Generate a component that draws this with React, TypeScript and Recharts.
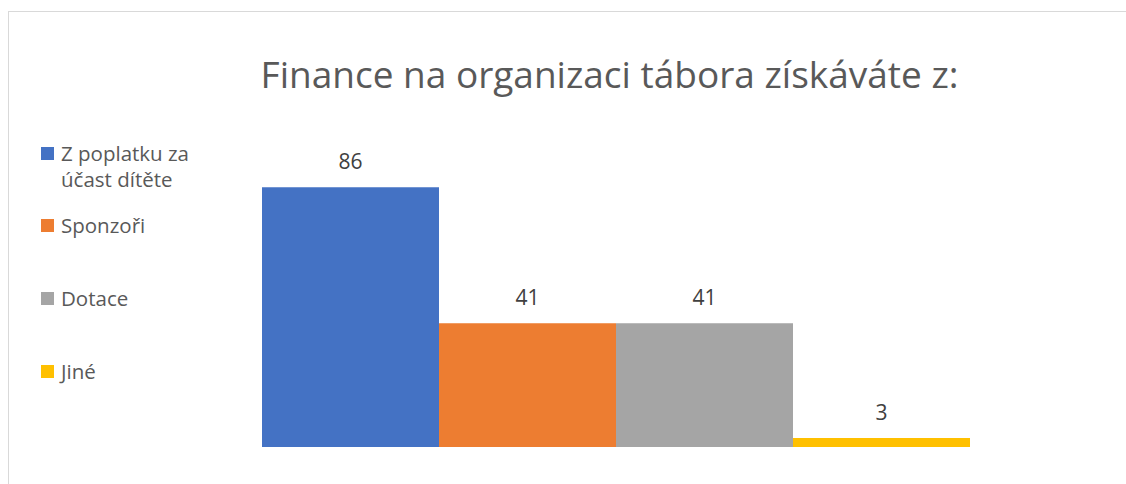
import React from 'react';
import { BarChart, Bar, XAxis, YAxis, LabelList } from 'recharts';

const title = 'Finance na organizaci tábora získáváte z:';
const seriesNames = ['Z poplatku za účast dítěte', 'Sponzoři', 'Dotace', 'Jiné'];
const legendLines = [['Z poplatku za', 'účast dítěte'], ['Sponzoři'], ['Dotace'], ['Jiné']];
const seriesValues = [86, 41, 41, 3];
const seriesColors = ['#4472C4', '#ED7D31', '#A5A5A5', '#FFC000'];
const categoryLabel = 'Finance';
const yDomain = [0, 100];

const data = [
  seriesValues.reduce(
    (acc: any, v, i) => {
      acc['s' + i] = v;
      return acc;
    },
    { name: categoryLabel }
  ),
];

const FONT = '"Open Sans", "Noto Sans", sans-serif';
const legendBaselines = [161, 233, 306, 379];

export default function App() {
  return (
    <div
      style={{
        position: 'fixed',
        left: 0,
        top: 0,
        width: 1126,
        height: 484,
        overflow: 'hidden',
        background: '#ffffff',
      }}
    >
      <div
        style={{
          position: 'absolute',
          left: 8,
          top: 11,
          width: 1300,
          height: 700,
          border: '1px solid #d9d9d9',
          boxSizing: 'border-box',
        }}
      />
      <div style={{ position: 'absolute', left: 0, top: 0 }}>
        <BarChart
          width={1126}
          height={484}
          data={data}
          margin={{ top: 145, right: 156, bottom: 37, left: 262 }}
          barCategoryGap={0}
          barGap={0}
        >
          <XAxis dataKey="name" hide />
          <YAxis hide domain={yDomain} />
          {seriesNames.map((n, i) => (
            <Bar
              key={n}
              dataKey={'s' + i}
              name={n}
              fill={seriesColors[i]}
              isAnimationActive={false}
            >
              <LabelList
                dataKey={'s' + i}
                position="top"
                offset={18}
                fill="#404040"
                fontSize={21}
                fontFamily={FONT}
              />
            </Bar>
          ))}
        </BarChart>
      </div>
      <svg
        width={1126}
        height={484}
        style={{ position: 'absolute', left: 0, top: 0, pointerEvents: 'none' }}
      >
        <text
          x={609.5}
          y={88}
          textAnchor="middle"
          fontFamily={FONT}
          fontSize={37}
          fill="#595959"
        >
          {title}
        </text>
        {legendLines.map((lines, i) => (
          <g key={i}>
            <rect
              x={41}
              y={legendBaselines[i] - 14}
              width={13}
              height={13}
              fill={seriesColors[i]}
            />
            {lines.map((ln, j) => (
              <text
                key={j}
                x={61}
                y={legendBaselines[i] + j * 26}
                fontFamily={FONT}
                fontSize={20.5}
                fill="#595959"
              >
                {ln}
              </text>
            ))}
          </g>
        ))}
      </svg>
    </div>
  );
}
